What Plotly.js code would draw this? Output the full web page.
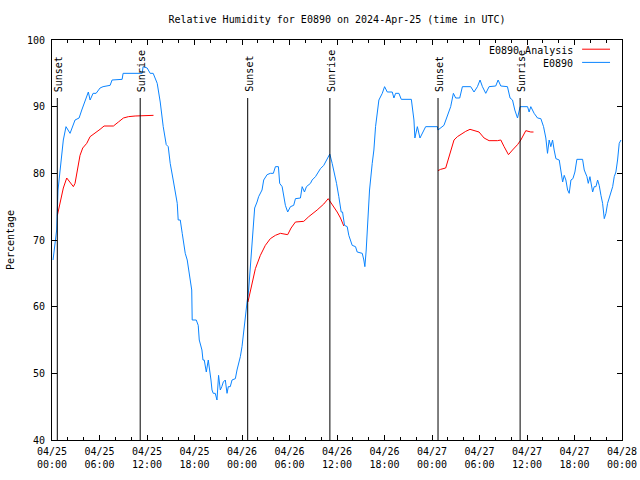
<!DOCTYPE html>
<html>
<head>
<meta charset="utf-8">
<script src="https://cdn.plot.ly/plotly-3.0.1.min.js"></script>
<style>html,body{margin:0;padding:0;background:#fff;}#chart{width:640px;height:480px;}</style>
</head>
<body>
<div id="chart"></div>
<script>
// Hours since 2024-04-25 00:00 UTC
var obsHours = [0.13,0.35,0.59,0.76,1.10,1.43,1.77,2.28,2.91,3.42,3.76,4.18,4.59,4.81,5.19,5.57,6.07,6.45,7.34,7.59,8.86,8.98,11.39,11.51,12.02,12.40,12.78,13.29,13.67,14.05,14.43,14.68,14.93,15.31,15.56,15.82,15.94,16.20,16.45,16.58,16.83,17.08,17.21,17.46,17.65,17.71,18.22,18.47,18.60,18.94,19.07,19.23,19.49,19.74,19.87,20.08,20.21,20.37,20.62,20.84,21.04,21.26,21.45,21.64,21.89,22.11,22.27,22.52,22.74,23.16,23.37,23.54,23.79,24.00,24.17,24.42,24.64,24.84,24.93,25.05,25.27,25.40,25.60,25.90,26.10,26.53,26.74,27.17,27.58,27.96,28.22,28.60,28.76,29.07,29.27,29.48,29.77,30.12,30.53,30.75,31.38,31.60,31.89,32.14,32.65,32.86,33.28,33.57,33.91,34.33,34.76,35.09,35.39,35.68,35.94,36.23,36.53,36.70,36.95,37.29,37.49,37.92,38.34,38.55,39.19,39.39,39.52,39.69,39.90,40.11,40.45,40.66,40.87,41.09,41.29,41.72,42.01,42.35,42.98,43.19,43.40,43.82,44.12,45.39,45.59,45.72,45.84,46.15,46.48,46.78,47.20,48.68,48.75,49.51,49.94,50.36,50.70,50.99,51.50,51.84,52.89,53.31,53.74,54.07,54.37,54.79,55.21,56.05,56.35,56.69,57.53,57.86,58.17,58.46,58.80,59.00,59.13,60.07,60.27,60.48,60.90,61.33,61.75,62.09,62.38,62.59,62.80,63.01,63.23,63.43,63.65,64.07,64.28,64.50,64.70,64.91,65.13,65.33,65.55,65.80,66.05,66.30,67.02,67.23,67.57,67.74,67.95,68.29,68.49,68.71,68.92,69.12,69.34,69.55,69.76,69.97,70.18,70.39,70.60,70.82,71.02,71.23,71.44,71.65,71.87];
var obsRH = [67,69,71.5,77.5,81.5,85,87,86,88,88.3,89.5,91,92.2,91,92,92,92.8,93,93.2,94,94.1,95,95,96,95.8,95,95,93.5,90.7,87,84.3,84,81.5,79,77.5,75.5,73,73,71,69.7,68,67,66,64.5,62.5,58,58,57.2,55,53.5,52,52,50.2,52,51,49,47.5,47,47,46,49.7,47.5,48,48.7,49,47,48,48,49,49.2,50.5,51.2,52.5,54,56,58,60.7,62.5,64,66,69,72,74.8,75.7,76.5,77.5,79,79.8,80,80,81,81,78.5,78,76.7,75.2,74.2,75,75.2,76.2,76.3,78,77.2,78,78.5,79,79.5,80,80.7,81.2,82.2,82.9,81.5,80,78.5,76.5,74.2,74.2,72.2,72,70.7,69.2,69,68.2,68,67,66,68.5,73.5,77.5,81.5,83.5,87,89.5,91,92,93,92.2,92.2,91.3,92,92,91.1,91.1,89.5,88,85.3,87,85.3,86,87,87,86.5,87.2,88.7,90,92,91.3,91.3,93,93,92.2,93,94,93,92,93,93.1,94,93.1,93,91.3,91,89.5,88.3,89.5,90,90,89.2,90,89,88.3,88.2,87,85.3,83,85,84,85,83.5,82.2,82,80.2,78.7,79.7,79,77.5,77,79,79.2,80.2,82.1,82.1,80.5,79.5,78.5,79.5,77.2,78,78,79,78.2,76.7,75.5,73.2,74,75.5,76.3,77,78,79.5,80.2,82,84.5,85];

var anaHours = [0.68,1.01,1.43,1.86,2.28,2.70,2.91,3.20,3.54,3.88,4.39,4.81,5.44,6.07,6.58,7.76,8.39,9.02,9.65,10.50,12.82,null,24.75,25.27,25.69,26.32,26.95,27.58,28.22,28.85,29.77,30.20,30.75,31.80,32.43,33.49,34.33,34.89,35.59,36.02,36.44,36.86,null,48.75,49.09,49.73,50.15,50.45,50.78,51.21,51.84,52.26,52.80,53.31,53.94,54.58,55.21,56.27,56.69,57.11,57.66,58.17,58.80,59.22,59.85,60.48,60.82];
var anaRH = [73.7,75.5,77.8,79.3,78.6,78,78.5,80.5,82.7,83.8,84.5,85.5,86,86.6,87.1,87.1,87.7,88.3,88.5,88.6,88.7,null,60.7,63.5,65.7,67.7,69.2,70.2,70.7,71,70.8,71.8,72.7,72.8,73.5,74.5,75.4,76.2,75,74.2,73.3,72.1,null,80.4,80.6,80.8,82.5,83.5,85,85.5,86,86.3,86.6,86.4,86.2,85.3,84.9,84.9,85,84,82.8,83.5,84.3,85,86.4,86.2,86.2];

var sunHours = [0.67,11.14,24.72,35.10,48.76,59.13];
var sunLabels = ['Sunset','Sunrise','Sunset','Sunrise','Sunset','Sunrise'];

var tickHours = [0,6,12,18,24,30,36,42,48,54,60,66,72];
var tickLabels = ['04/25<br>00:00','04/25<br>06:00','04/25<br>12:00','04/25<br>18:00','04/26<br>00:00','04/26<br>06:00','04/26<br>12:00','04/26<br>18:00','04/27<br>00:00','04/27<br>06:00','04/27<br>12:00','04/27<br>18:00','04/28<br>00:00'];

var seriesNames = ['E0890 Analysis','E0890'];
var seriesColors = ['#ff0000','#0a84ff'];

var T0 = Date.UTC(2024,3,25,0,0,0);
function toDate(h){ if(h===null) return null; var d=new Date(T0+h*3600000); return d.toISOString().replace('T',' ').replace('Z',''); }

var FONT = 'DejaVu Sans Mono, monospace';

var traces = [
  {x: anaHours.map(toDate), y: anaRH, type:'scatter', mode:'lines', name: seriesNames[0], line:{color:seriesColors[0], width:1}, connectgaps:false, showlegend:false},
  {x: obsHours.map(toDate), y: obsRH, type:'scatter', mode:'lines', name: seriesNames[1], line:{color:seriesColors[1], width:1}, showlegend:false}
];

var shapes = [];
var annotations = [];
for (var i=0;i<sunHours.length;i++){
  shapes.push({type:'line', xref:'x', yref:'y', x0:toDate(sunHours[i]), x1:toDate(sunHours[i]), y0:40, y1:91.3, line:{color:'#000', width:1}});
  annotations.push({xref:'x', yref:'y', x:toDate(sunHours[i]), y:91.9, text:sunLabels[i], textangle:-90, showarrow:false, xanchor:'center', yanchor:'bottom', xshift:1, font:{family:FONT, size:10, color:'#000'}});
}
// legend (gnuplot style: text left of sample)
var legY = [0.974, 0.941];
for (var j=0;j<seriesNames.length;j++){
  annotations.push({xref:'paper', yref:'paper', x:0.917, y:legY[j], text:seriesNames[j], showarrow:false, xanchor:'right', yanchor:'middle', font:{family:FONT, size:10, color:'#000'}});
  shapes.push({type:'line', xref:'paper', yref:'paper', x0:0.93, x1:0.979, y0:legY[j]+0.003, y1:legY[j]+0.003, line:{color:seriesColors[j], width:1}});
}

var layout = {
  width:640, height:480,
  margin:{l:52, r:18, t:40, b:40},
  paper_bgcolor:'#fff', plot_bgcolor:'#fff',
  font:{family:FONT, size:10, color:'#000'},
  title:{text:'Relative Humidity for E0890 on 2024-Apr-25 (time in UTC)', x:0.5, xref:'paper', xanchor:'center', y:1-19/480, yref:'container', yanchor:'middle', font:{family:FONT, size:10, color:'#000'}},
  xaxis:{
    type:'date',
    range:[toDate(0), toDate(72)],
    tickmode:'array', tickvals:tickHours.map(toDate), ticktext:tickLabels,
    ticks:'inside', ticklen:5, tickcolor:'#000', tickwidth:1,
    minor:{dtick:7200000, tick0:toDate(0), ticks:'inside', ticklen:3, tickcolor:'#000', tickwidth:1, showgrid:false},
    showline:true, linecolor:'#000', linewidth:1, mirror:'allticks',
    showgrid:false, zeroline:false, fixedrange:true,
    ticklabelstandoff:2,
    tickfont:{family:FONT, size:10, color:'#000'}
  },
  yaxis:{
    range:[40,100], tickvals:[40,50,60,70,80,90,100],
    ticks:'inside', ticklen:5, tickcolor:'#000', tickwidth:1,
    showline:true, linecolor:'#000', linewidth:1, mirror:'allticks',
    showgrid:false, zeroline:false, fixedrange:true,
    ticklabelstandoff:4,
    title:{text:'Percentage', font:{family:FONT, size:10, color:'#000'}, standoff:10},
    tickfont:{family:FONT, size:10, color:'#000'}
  },
  shapes:shapes,
  annotations:annotations,
  showlegend:false
};

Plotly.newPlot('chart', traces, layout, {displayModeBar:false, staticPlot:true});
</script>
</body>
</html>
